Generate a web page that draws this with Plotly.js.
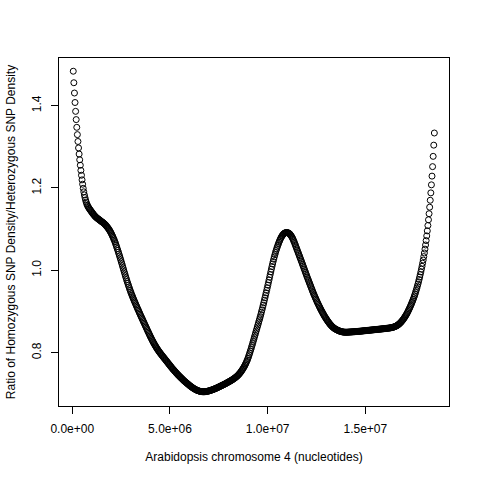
<!DOCTYPE html>
<html>
<head>
<meta charset="utf-8">
<script src="https://cdn.plot.ly/plotly-3.0.1.min.js"></script>
<style>
  html, body { margin: 0; padding: 0; background: #fff; }
  #plot { width: 480px; height: 480px; }
</style>
</head>
<body>
<div id="plot"></div>
<script>
// window start and spacing along chromosome 4 (nucleotides)
var winStart = 50000;
var winStep = 30000;

// homozygous / heterozygous SNP density ratio, one value per window
var ratio = [
  1.4835, 1.4555, 1.4305, 1.4075, 1.3860, 1.3660, 1.3472, 1.3295, 1.3128, 1.2971,
  1.2823, 1.2683, 1.2551, 1.2426, 1.2308, 1.2196, 1.2090, 1.1990, 1.1905, 1.1830,
  1.1765, 1.1707, 1.1657, 1.1614, 1.1579, 1.1551, 1.1527, 1.1505, 1.1484, 1.1464,
  1.1444, 1.1424, 1.1404, 1.1385, 1.1366, 1.1348, 1.1331, 1.1315, 1.1300, 1.1286,
  1.1274, 1.1263, 1.1252, 1.1241, 1.1230, 1.1219, 1.1208, 1.1197, 1.1186, 1.1175,
  1.1166, 1.1155, 1.1143, 1.1130, 1.1116, 1.1101, 1.1085, 1.1068, 1.1050, 1.1031,
  1.1011, 1.0990, 1.0968, 1.0944, 1.0918, 1.0890, 1.0860, 1.0829, 1.0797, 1.0764,
  1.0729, 1.0692, 1.0653, 1.0612, 1.0570, 1.0527, 1.0483, 1.0438, 1.0393, 1.0347,
  1.0300, 1.0252, 1.0204, 1.0155, 1.0106, 1.0057, 1.0008, 0.9959, 0.9911, 0.9863,
  0.9816, 0.9770, 0.9725, 0.9681, 0.9638, 0.9596, 0.9555, 0.9515, 0.9475, 0.9436,
  0.9399, 0.9363, 0.9328, 0.9293, 0.9259, 0.9225, 0.9192, 0.9159, 0.9126, 0.9093,
  0.9061, 0.9029, 0.8997, 0.8965, 0.8933, 0.8901, 0.8870, 0.8839, 0.8808, 0.8777,
  0.8746, 0.8715, 0.8684, 0.8653, 0.8622, 0.8591, 0.8560, 0.8529, 0.8498, 0.8467,
  0.8437, 0.8407, 0.8378, 0.8349, 0.8321, 0.8293, 0.8266, 0.8240, 0.8214, 0.8189,
  0.8165, 0.8141, 0.8118, 0.8096, 0.8074, 0.8053, 0.8033, 0.8013, 0.7994, 0.7975,
  0.7957, 0.7939, 0.7921, 0.7903, 0.7885, 0.7867, 0.7849, 0.7831, 0.7813, 0.7795,
  0.7777, 0.7759, 0.7741, 0.7723, 0.7705, 0.7687, 0.7669, 0.7651, 0.7633, 0.7615,
  0.7599, 0.7583, 0.7567, 0.7551, 0.7535, 0.7519, 0.7503, 0.7487, 0.7471, 0.7456,
  0.7441, 0.7427, 0.7413, 0.7399, 0.7385, 0.7371, 0.7357, 0.7343, 0.7329, 0.7315,
  0.7303, 0.7291, 0.7279, 0.7267, 0.7255, 0.7243, 0.7231, 0.7219, 0.7207, 0.7195,
  0.7184, 0.7173, 0.7163, 0.7153, 0.7143, 0.7134, 0.7125, 0.7116, 0.7108, 0.7100,
  0.7093, 0.7086, 0.7080, 0.7074, 0.7069, 0.7065, 0.7061, 0.7058, 0.7055, 0.7053,
  0.7051, 0.7050, 0.7049, 0.7049, 0.7050, 0.7051, 0.7053, 0.7055, 0.7058, 0.7061,
  0.7064, 0.7068, 0.7072, 0.7076, 0.7081, 0.7086, 0.7091, 0.7096, 0.7101, 0.7106,
  0.7112, 0.7118, 0.7124, 0.7130, 0.7136, 0.7142, 0.7149, 0.7156, 0.7163, 0.7170,
  0.7177, 0.7184, 0.7191, 0.7198, 0.7205, 0.7212, 0.7219, 0.7226, 0.7233, 0.7240,
  0.7248, 0.7256, 0.7264, 0.7272, 0.7280, 0.7288, 0.7296, 0.7304, 0.7312, 0.7320,
  0.7329, 0.7338, 0.7347, 0.7357, 0.7367, 0.7377, 0.7388, 0.7399, 0.7410, 0.7422,
  0.7435, 0.7449, 0.7464, 0.7480, 0.7497, 0.7515, 0.7534, 0.7554, 0.7575, 0.7597,
  0.7620, 0.7644, 0.7669, 0.7696, 0.7725, 0.7756, 0.7789, 0.7824, 0.7861, 0.7901,
  0.7943, 0.7987, 0.8032, 0.8078, 0.8125, 0.8173, 0.8222, 0.8272, 0.8322, 0.8372,
  0.8422, 0.8472, 0.8522, 0.8572, 0.8622, 0.8672, 0.8722, 0.8772, 0.8822, 0.8872,
  0.8926, 0.8981, 0.9037, 0.9094, 0.9152, 0.9211, 0.9271, 0.9331, 0.9391, 0.9451,
  0.9513, 0.9575, 0.9638, 0.9702, 0.9766, 0.9831, 0.9896, 0.9961, 1.0026, 1.0090,
  1.0152, 1.0212, 1.0270, 1.0326, 1.0380, 1.0431, 1.0479, 1.0524, 1.0566, 1.0606,
  1.0645, 1.0682, 1.0717, 1.0750, 1.0780, 1.0807, 1.0831, 1.0852, 1.0870, 1.0885,
  1.0897, 1.0906, 1.0912, 1.0915, 1.0916, 1.0915, 1.0912, 1.0906, 1.0897, 1.0885,
  1.0870, 1.0852, 1.0831, 1.0807, 1.0780, 1.0750, 1.0717, 1.0682, 1.0645, 1.0607,
  1.0569, 1.0531, 1.0493, 1.0455, 1.0417, 1.0379, 1.0341, 1.0303, 1.0265, 1.0227,
  1.0188, 1.0149, 1.0110, 1.0071, 1.0032, 0.9993, 0.9954, 0.9915, 0.9876, 0.9837,
  0.9800, 0.9763, 0.9726, 0.9689, 0.9652, 0.9615, 0.9578, 0.9541, 0.9504, 0.9467,
  0.9432, 0.9398, 0.9364, 0.9331, 0.9298, 0.9266, 0.9235, 0.9204, 0.9174, 0.9144,
  0.9115, 0.9086, 0.9058, 0.9030, 0.9003, 0.8977, 0.8951, 0.8926, 0.8901, 0.8877,
  0.8854, 0.8831, 0.8809, 0.8788, 0.8767, 0.8747, 0.8728, 0.8709, 0.8691, 0.8674,
  0.8658, 0.8643, 0.8629, 0.8616, 0.8604, 0.8593, 0.8583, 0.8574, 0.8566, 0.8559,
  0.8551, 0.8544, 0.8537, 0.8531, 0.8525, 0.8520, 0.8515, 0.8511, 0.8507, 0.8504,
  0.8501, 0.8499, 0.8497, 0.8496, 0.8495, 0.8495, 0.8495, 0.8495, 0.8496, 0.8497,
  0.8498, 0.8499, 0.8500, 0.8501, 0.8502, 0.8503, 0.8504, 0.8505, 0.8506, 0.8507,
  0.8508, 0.8510, 0.8511, 0.8512, 0.8513, 0.8514, 0.8516, 0.8517, 0.8518, 0.8519,
  0.8521, 0.8522, 0.8524, 0.8525, 0.8527, 0.8528, 0.8530, 0.8531, 0.8533, 0.8534,
  0.8536, 0.8537, 0.8539, 0.8540, 0.8542, 0.8543, 0.8545, 0.8546, 0.8548, 0.8549,
  0.8551, 0.8552, 0.8554, 0.8555, 0.8557, 0.8558, 0.8560, 0.8561, 0.8563, 0.8564,
  0.8566, 0.8567, 0.8569, 0.8570, 0.8572, 0.8573, 0.8575, 0.8576, 0.8578, 0.8579,
  0.8581, 0.8583, 0.8585, 0.8586, 0.8588, 0.8590, 0.8592, 0.8593, 0.8595, 0.8597,
  0.8599, 0.8601, 0.8604, 0.8607, 0.8610, 0.8614, 0.8618, 0.8623, 0.8628, 0.8634,
  0.8640, 0.8647, 0.8655, 0.8664, 0.8674, 0.8685, 0.8697, 0.8710, 0.8724, 0.8739,
  0.8755, 0.8772, 0.8790, 0.8809, 0.8829, 0.8850, 0.8872, 0.8895, 0.8919, 0.8944,
  0.8971, 0.8999, 0.9028, 0.9058, 0.9089, 0.9121, 0.9154, 0.9188, 0.9223, 0.9259,
  0.9296, 0.9335, 0.9376, 0.9419, 0.9464, 0.9511, 0.9560, 0.9611, 0.9664, 0.9719,
  0.9776, 0.9835, 0.9896, 0.9960, 1.0027, 1.0097, 1.0171, 1.0249, 1.0332, 1.0420,
  1.0514, 1.0614, 1.0721, 1.0835, 1.0957, 1.1087, 1.1226, 1.1374, 1.1532, 1.1700,
  1.1880, 1.2075, 1.2287, 1.2517, 1.2767, 1.3039, 1.3334
];

var xTicks = [0, 5000000, 10000000, 15000000];
var xTickLabels = ['0.0e+00', '5.0e+06', '1.0e+07', '1.5e+07'];
var yTicks = [0.8, 1.0, 1.2, 1.4];
var yTickLabels = ['0.8', '1.0', '1.2', '1.4'];

var pos = [];
for (var i = 0; i < ratio.length; i++) {
  pos.push(winStart + i * winStep);
}

var trace = {
  x: pos,
  y: ratio,
  type: 'scatter',
  mode: 'markers',
  marker: {
    symbol: 'circle-open',
    size: 6,
    color: '#000',
    line: { color: '#000', width: 1 }
  },
  hoverinfo: 'x+y'
};

var axisFont = { family: 'Liberation Sans, Arial, sans-serif', size: 12, color: '#000' };

var layout = {
  width: 480,
  height: 480,
  margin: { l: 59, r: 31, t: 58, b: 74 },
  paper_bgcolor: '#fff',
  plot_bgcolor: '#fff',
  showlegend: false,
  font: axisFont,
  xaxis: {
    range: [-680000, 19280000],
    tickvals: xTicks,
    ticktext: xTickLabels,
    ticks: 'outside',
    ticklen: 7,
    tickwidth: 1,
    tickcolor: '#000',
    showline: true,
    linecolor: '#000',
    linewidth: 1,
    mirror: true,
    showgrid: false,
    zeroline: false,
    ticklabelstandoff: 5,
    tickfont: axisFont,
    title: { text: 'Arabidopsis chromosome 4 (nucleotides)', font: axisFont, standoff: 17 }
  },
  yaxis: {
    range: [0.6703, 1.5156],
    tickvals: yTicks,
    ticktext: yTickLabels,
    tickangle: -90,
    ticks: 'outside',
    ticklen: 7,
    tickwidth: 1,
    tickcolor: '#000',
    showline: true,
    linecolor: '#000',
    linewidth: 1,
    mirror: true,
    showgrid: false,
    zeroline: false,
    ticklabelstandoff: 5,
    tickfont: axisFont,
    title: { text: 'Ratio of Homozygous SNP Density/Heterozygous SNP Density', font: axisFont, standoff: 12 }
  }
};

Plotly.newPlot('plot', [trace], layout, { displayModeBar: false, staticPlot: true });
</script>
</body>
</html>
